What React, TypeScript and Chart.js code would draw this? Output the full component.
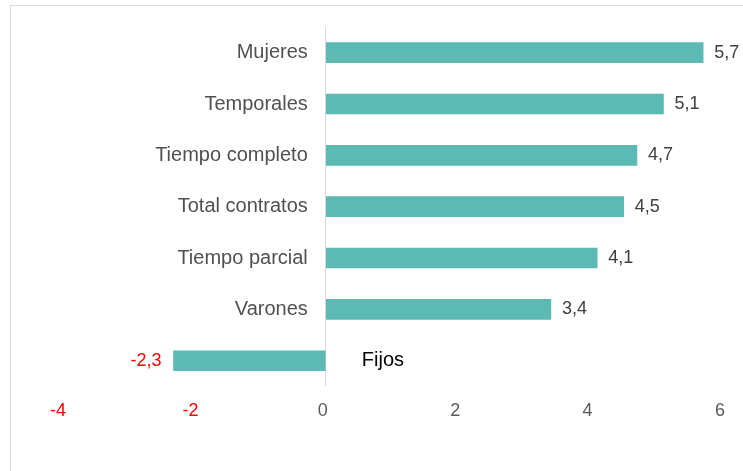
import React, { useEffect, useRef } from "react";
import { Chart, registerables } from "chart.js";

Chart.register(...registerables);

const categories = ["Mujeres", "Temporales", "Tiempo completo", "Total contratos", "Tiempo parcial", "Varones", "Fijos"];
const values = [5.7, 5.1, 4.7, 4.5, 4.1, 3.4, -2.3];
const xMin = -4;
const xMax = 6;
const xStep = 2;

const fmt = (v: number) => v.toFixed(1).replace(".", ",");

const labelsPlugin = {
  id: "barLabels",
  afterDatasetsDraw(chart: any) {
    const ctx = chart.ctx;
    const meta = chart.getDatasetMeta(0);
    const xScale = chart.scales.x;
    const zero = xScale.getPixelForValue(0);
    ctx.save();
    ctx.textBaseline = "middle";
    meta.data.forEach((bar: any, i: number) => {
      const v = values[i];
      const y = bar.y;
      // category label
      ctx.font = "20px 'Liberation Sans', Arial, sans-serif";
      if (v >= 0) {
        ctx.fillStyle = "#505050";
        ctx.textAlign = "right";
        ctx.fillText(categories[i], zero - 18, y);
      } else {
        ctx.fillStyle = "#000000";
        ctx.textAlign = "left";
        ctx.fillText(categories[i], zero + 36, y);
      }
      // value label
      ctx.font = "18px 'Liberation Sans', Arial, sans-serif";
      if (v >= 0) {
        ctx.fillStyle = "#404040";
        ctx.textAlign = "left";
        ctx.fillText(fmt(v), bar.x + 11, y);
      } else {
        ctx.fillStyle = "#ff0000";
        ctx.textAlign = "right";
        ctx.fillText(fmt(v), bar.x - 12, y);
      }
    });
    ctx.restore();
  },
};

export default function App() {
  const ref = useRef<HTMLCanvasElement | null>(null);
  useEffect(() => {
    if (!ref.current) return;
    const chart = new Chart(ref.current, {
      type: "bar",
      data: {
        labels: categories,
        datasets: [
          {
            data: values,
            backgroundColor: "#5cb9b3",
            borderWidth: 0,
            barThickness: 20,
          },
        ],
      },
      options: {
        indexAxis: "y",
        animation: false,
        responsive: false,
        maintainAspectRatio: false,
        layout: { padding: { left: 61, right: 20, top: 27, bottom: 35 } },
        plugins: { legend: { display: false }, tooltip: { enabled: false }, title: { display: false } },
        scales: {
          x: {
            min: xMin,
            max: xMax,
            ticks: {
              stepSize: xStep,
              padding: 14,
              labelOffset: -3,
              font: { family: "'Liberation Sans', Arial, sans-serif", size: 18 },
              color: (c: any) => (c.tick && c.tick.value < 0 ? "#ff0000" : "#595959"),
              callback: (v: any) => String(v),
            },
            grid: {
              drawTicks: false,
              color: (c: any) => (c.tick && c.tick.value === 0 ? "#d9d9d9" : "rgba(0,0,0,0)"),
              lineWidth: 1,
            },
            border: { display: false },
          },
          y: { display: false, grid: { display: false } },
        },
      },
      plugins: [labelsPlugin],
    });
    return () => chart.destroy();
  }, []);
  return (
    <div style={{ position: "fixed", left: 0, top: 0, width: 743, height: 471, overflow: "hidden", background: "#fff" }}>
      <div style={{ position: "absolute", left: 10, top: 5, width: 800, height: 520, border: "1px solid #d9d9d9" }} />
      <canvas ref={ref} width={743} height={471} style={{ position: "absolute", left: 0, top: 0, width: 743, height: 471 }} />
    </div>
  );
}
